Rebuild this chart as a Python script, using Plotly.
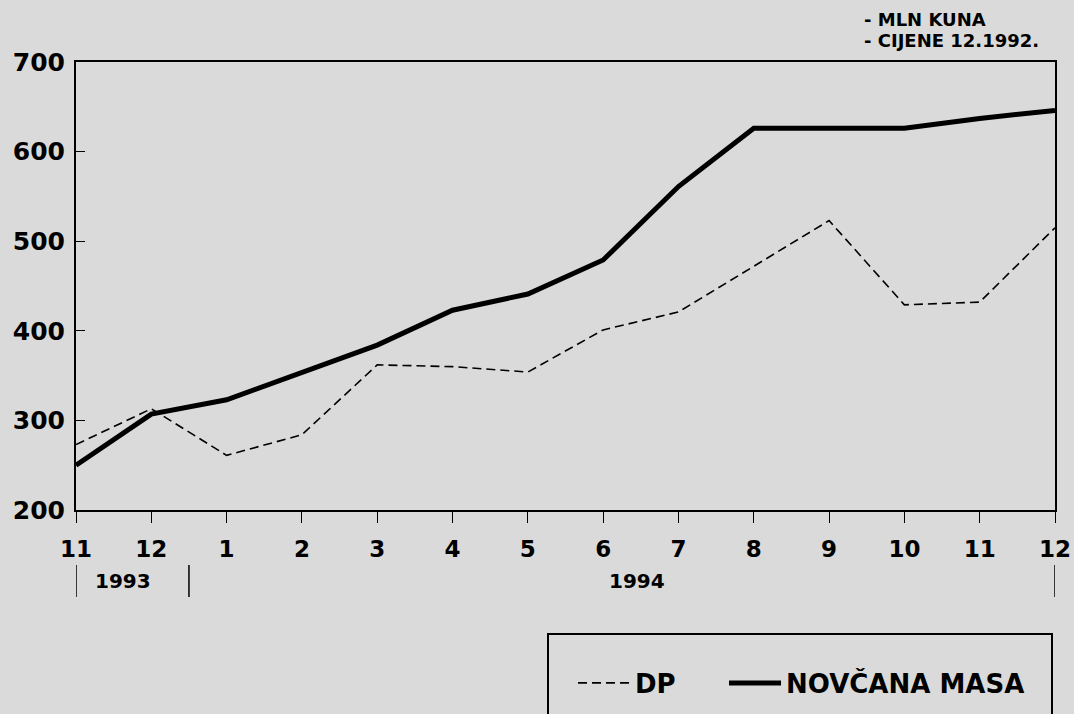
import plotly.graph_objects as go

# ---- data ----
months = ["11", "12", "1", "2", "3", "4", "5", "6", "7", "8", "9", "10", "11", "12"]
dp = [273, 313, 261, 284, 362, 360, 354, 401, 421, 472, 523, 429, 432, 515]
novcana_masa = [250, 307, 323, 354, 384, 423, 441, 479, 561, 626, 626, 626, 637, 646]
y_ticks = [200, 300, 400, 500, 600, 700]
unit_notes = ["- MLN KUNA", "- CIJENE 12.1992."]
years = ["1993", "1994"]

FONT = "DejaVu Sans"
BG = "#dadada"
xs = list(range(len(months)))
PL, PR, PT, PB = 76, 1055, 62, 510  # plot-area pixel edges


def px_x(p):
    return (p - PL) / (PR - PL)


def px_y(p):
    return (PB - p) / (PB - PT)


fig = go.Figure()
fig.add_trace(go.Scatter(
    x=xs, y=dp, mode="lines", name="DP", legend="legend",
    line=dict(color="black", width=1.6, dash="9px,5px"),
))
fig.add_trace(go.Scatter(
    x=xs, y=novcana_masa, mode="lines", name="NOVČANA MASA", legend="legend2",
    line=dict(color="black", width=5),
))

leg_common = dict(
    orientation="h", y=px_y(683), xanchor="left", yanchor="middle",
    bgcolor="rgba(0,0,0,0)", borderwidth=0,
    font=dict(family=FONT, size=26, weight="bold"),
    itemwidth=52,
)

fig.update_layout(
    width=1074, height=714,
    margin=dict(l=PL, r=1074 - PR, t=PT, b=714 - PB, autoexpand=False),
    paper_bgcolor=BG, plot_bgcolor=BG,
    font=dict(family=FONT, color="black", weight="bold"),
    showlegend=True,
    legend=dict(x=px_x(573), **leg_common),
    legend2=dict(x=px_x(724), **leg_common),
    xaxis=dict(
        range=[0, len(months) - 1], automargin=False,
        tickmode="array", tickvals=xs, ticktext=months,
        ticks="outside", ticklen=11, tickwidth=1.2, tickcolor="black",
        showgrid=False, zeroline=False,
        showline=True, linecolor="black", linewidth=2, mirror=True,
        tickfont=dict(family=FONT, size=23, weight="bold"),
        ticklabelstandoff=6,
    ),
    xaxis2=dict(
        overlaying="x", matches="x", side="bottom", automargin=False,
        range=[0, len(months) - 1],
        tickmode="array", tickvals=xs, ticktext=[""] * len(xs),
        ticks="inside", ticklen=11, tickwidth=1.2, tickcolor="black",
        showgrid=False, zeroline=False, showline=False, showticklabels=False,
    ),
    yaxis=dict(
        range=[200, 700], automargin=False,
        tickmode="array", tickvals=y_ticks,
        ticks="inside", ticklen=9, tickwidth=1.2, tickcolor="black",
        showgrid=False, zeroline=False,
        showline=True, linecolor="black", linewidth=2, mirror=True,
        tickfont=dict(family=FONT, size=25, weight="bold"),
        ticklabelstandoff=4,
    ),
)

# unit notes, top right
for i, t in enumerate(unit_notes):
    fig.add_annotation(
        text=t, xref="paper", yref="paper", x=px_x(862), y=px_y(19 + i * 21),
        xanchor="left", yanchor="middle", showarrow=False,
        font=dict(family=FONT, size=18, weight="bold"),
    )

# year labels under the month axis
fig.add_annotation(text=years[0], xref="x", yref="paper", x=0.62, y=px_y(581),
                   showarrow=False, xanchor="center", yanchor="middle",
                   font=dict(family=FONT, size=20, weight="bold"))
fig.add_annotation(text=years[1], xref="x", yref="paper", x=7.45, y=px_y(581),
                   showarrow=False, xanchor="center", yanchor="middle",
                   font=dict(family=FONT, size=20, weight="bold"))
for xv in [0, 1.5, len(months) - 1]:
    fig.add_shape(type="line", xref="x", yref="paper", x0=xv, x1=xv,
                  y0=px_y(565), y1=px_y(597), line=dict(color="black", width=1.5))

# legend frame
fig.add_shape(type="rect", xref="paper", yref="paper",
              x0=px_x(548), x1=px_x(1052), y0=px_y(634), y1=px_y(730),
              line=dict(color="black", width=2), fillcolor="rgba(0,0,0,0)")

fig.write_html(
    "out.html",
    config={"displayModeBar": False},
    post_script="document.body.style.margin='0px';document.body.style.background='" + BG + "';",
)
